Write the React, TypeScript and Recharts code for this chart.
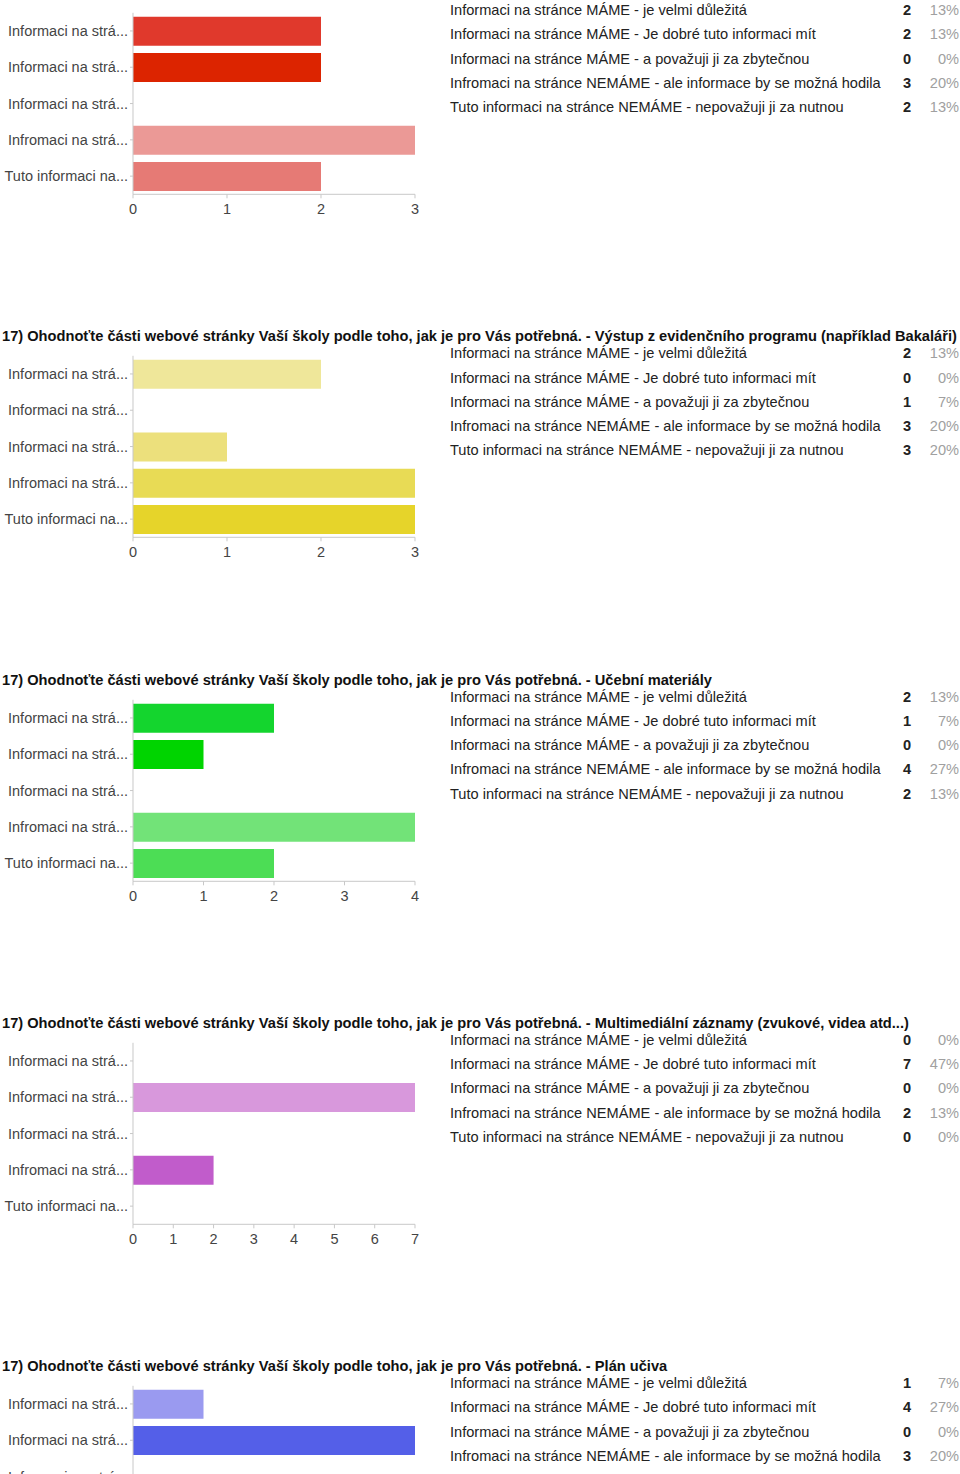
import { BarChart, Bar, XAxis, YAxis, Cell } from 'recharts';

// answer options (same for every question)
const options = [
  'Informaci na stránce MÁME - je velmi důležitá',
  'Informaci na stránce MÁME - Je dobré tuto informaci mít',
  'Informaci na stránce MÁME - a považuji ji za zbytečnou',
  'Infromaci na stránce NEMÁME - ale informace by se možná hodila',
  'Tuto informaci na stránce NEMÁME - nepovažuji ji za nutnou',
];

const titles = [
  '',
  '17) Ohodnoťte části webové stránky Vaší školy podle toho, jak je pro Vás potřebná. - Výstup z evidenčního programu (například Bakaláři)',
  '17) Ohodnoťte části webové stránky Vaší školy podle toho, jak je pro Vás potřebná. - Učební materiály',
  '17) Ohodnoťte části webové stránky Vaší školy podle toho, jak je pro Vás potřebná. - Multimediální záznamy (zvukové, videa atd...)',
  '17) Ohodnoťte části webové stránky Vaší školy podle toho, jak je pro Vás potřebná. - Plán učiva',
];

// counts per question (last one is cut off by the page edge)
const counts1 = [2, 2, 0, 3, 2];
const counts2 = [2, 0, 1, 3, 3];
const counts3 = [2, 1, 0, 4, 2];
const counts4 = [0, 7, 0, 2, 0];
const counts5 = [1, 4, 0, 3];

const percents1 = ['13%', '13%', '0%', '20%', '13%'];
const percents2 = ['13%', '0%', '7%', '20%', '20%'];
const percents3 = ['13%', '7%', '0%', '27%', '13%'];
const percents4 = ['0%', '47%', '0%', '13%', '0%'];
const percents5 = ['7%', '27%', '0%', '20%'];

const ticks1 = [0, 1, 2, 3];
const ticks2 = [0, 1, 2, 3];
const ticks3 = [0, 1, 2, 3, 4];
const ticks4 = [0, 1, 2, 3, 4, 5, 6, 7];
const ticks5 = [0, 1, 2, 3, 4];

const colors1 = ['#e0392c', '#dc2400', '#e0392c', '#eb9996', '#e67a75'];
const colors2 = ['#efe79a', '#efe79a', '#ece07c', '#e8db55', '#e6d42a'];
const colors3 = ['#14d52e', '#00d400', '#14d52e', '#72e378', '#4cdd55'];
const colors4 = ['#d898dc', '#d898dc', '#d898dc', '#c15ccb', '#c15ccb'];
const colors5 = ['#9a9af0', '#545fe8', '#545fe8', '#545fe8'];

const panels = [
  { counts: counts1, percents: percents1, ticks: ticks1, colors: colors1 },
  { counts: counts2, percents: percents2, ticks: ticks2, colors: colors2 },
  { counts: counts3, percents: percents3, ticks: ticks3, colors: colors3 },
  { counts: counts4, percents: percents4, ticks: ticks4, colors: colors4 },
  { counts: counts5, percents: percents5, ticks: ticks5, colors: colors5 },
];

const FONT = '"Liberation Sans", Arial, sans-serif';
const STEP = 343.25;
const BAND = 36.3;
const ROW = 24.25;

function Panel({ index }: { index: number }) {
  const p = panels[index];
  const T = -7 + index * STEP; // title centre line
  const data = p.counts.map((v, i) => ({ name: options[i], value: v }));
  const plotH = BAND * data.length;
  const top = 19.8;
  const chartH = top + plotH + 40;
  const max = p.ticks[p.ticks.length - 1];

  return (
    <>
      {titles[index] && (
        <div
          style={{
            position: 'absolute',
            left: 2,
            top: T - 9,
            height: 18,
            lineHeight: '18px',
            fontWeight: 'bold',
            fontSize: 14.65,
            color: '#111',
            whiteSpace: 'nowrap',
          }}
        >
          {titles[index]}
        </div>
      )}

      {data.map((d, i) => (
        <div key={i} style={{ position: 'absolute', top: T + 17 + i * ROW - 9, height: 18, lineHeight: '18px', fontSize: 14.6, left: 0, width: 960 }}>
          <span style={{ position: 'absolute', left: 450, color: '#222', whiteSpace: 'nowrap' }}>{d.name}</span>
          <span style={{ position: 'absolute', left: 880, width: 31, textAlign: 'right', fontWeight: 'bold', color: '#222' }}>{d.value}</span>
          <span style={{ position: 'absolute', left: 915, width: 44, textAlign: 'right', color: '#a0a0a0' }}>{p.percents[i]}</span>
        </div>
      ))}

      <div style={{ position: 'absolute', left: 0, top: T }}>
        <BarChart
          width={430}
          height={chartH}
          data={data}
          layout="vertical"
          margin={{ top, right: 15, bottom: chartH - top - plotH - 30, left: 0 }}
        >
          <XAxis
            type="number"
            domain={[0, max]}
            ticks={p.ticks}
            interval={0}
            height={30}
            stroke="#c8c8c8"
            tickSize={4}
            tickMargin={5}
            tick={{ fill: '#444', fontSize: 14.5, fontFamily: FONT }}
          />
          <YAxis
            type="category"
            dataKey="name"
            width={133}
            stroke="#c8c8c8"
            tickSize={3}
            tickMargin={2}
            interval={0}
            tick={{ fill: '#444', fontSize: 14.5, fontFamily: FONT }}
            tickFormatter={(s: string) => s.slice(0, 17) + '...'}
          />
          <Bar dataKey="value" barSize={29} isAnimationActive={false}>
            {data.map((_, i) => (
              <Cell key={i} fill={p.colors[i]} />
            ))}
          </Bar>
        </BarChart>
      </div>
    </>
  );
}

export default function App() {
  return (
    <div
      style={{
        position: 'absolute',
        left: 0,
        top: 0,
        width: 960,
        height: 1474,
        overflow: 'hidden',
        background: '#fff',
        fontFamily: FONT,
      }}
    >
      {panels.map((_, i) => (
        <Panel key={i} index={i} />
      ))}
    </div>
  );
}
